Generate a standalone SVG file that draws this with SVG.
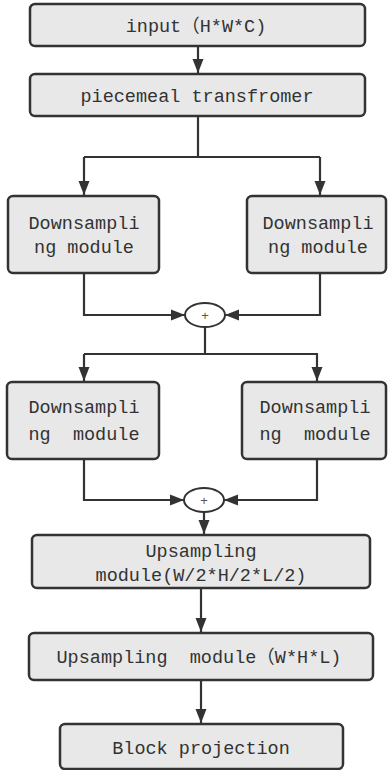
<svg xmlns="http://www.w3.org/2000/svg" width="388" height="770" viewBox="0 0 388 770">
  <defs>
    <marker id="arrow" markerUnits="userSpaceOnUse" markerWidth="14" markerHeight="14" viewBox="0 0 14 14" refX="14" refY="7" orient="auto">
      <path d="M0 1.5 L14 7 L0 12.5 Z" fill="#333"/>
    </marker>
    <style>
      .box { fill: #e8e8e8; stroke: #333; stroke-width: 2.5; }
      .lbl { font-family: "Liberation Mono", "Noto Sans CJK SC", monospace; font-size: 18.5px; fill: #333; text-anchor: middle; }
      .wire { fill: none; stroke: #333; stroke-width: 2.2; }
      .sum { fill: #fff; stroke: #333; stroke-width: 2; }
      .plus { font-family: "Liberation Sans", sans-serif; font-size: 13px; fill: #555; text-anchor: middle; }
    </style>
  </defs>
  <rect width="388" height="770" fill="#fff"/>

  <g id="connectors">
    <path class="wire" d="M198 46 V73" marker-end="url(#arrow)"/>
    <path class="wire" d="M198 116 V157 M84 157 H320"/>
    <path class="wire" d="M84 157 V195" marker-end="url(#arrow)"/>
    <path class="wire" d="M320 157 V195" marker-end="url(#arrow)"/>
    <path class="wire" d="M84 273 V315 H185" marker-end="url(#arrow)"/>
    <path class="wire" d="M320 273 V315 H225" marker-end="url(#arrow)"/>
    <path class="wire" d="M205 327 V354 M84 354 H318"/>
    <path class="wire" d="M84 354 V381" marker-end="url(#arrow)"/>
    <path class="wire" d="M317 354 V381" marker-end="url(#arrow)"/>
    <path class="wire" d="M84 459 V500 H184" marker-end="url(#arrow)"/>
    <path class="wire" d="M317 459 V500 H224" marker-end="url(#arrow)"/>
    <path class="wire" d="M204 512 V534" marker-end="url(#arrow)"/>
    <path class="wire" d="M201 588 V632" marker-end="url(#arrow)"/>
    <path class="wire" d="M201 680 V723" marker-end="url(#arrow)"/>
  </g>

  <g id="input">
    <rect class="box" x="30" y="4" width="335" height="42" rx="5"/>
    <text class="lbl" x="196" y="32">input（H*W*C)</text>
  </g>
  <g id="piecemeal">
    <rect class="box" x="30" y="74" width="335" height="42" rx="5"/>
    <text class="lbl" x="197" y="102">piecemeal transfromer</text>
  </g>
  <g id="down1-left">
    <rect class="box" x="8" y="196" width="151" height="77" rx="5"/>
    <text class="lbl" x="84" y="229">Downsampli</text>
    <text class="lbl" x="84" y="253">ng module</text>
  </g>
  <g id="down1-right">
    <rect class="box" x="247" y="196" width="139" height="77" rx="5"/>
    <text class="lbl" x="318" y="229">Downsampli</text>
    <text class="lbl" x="318" y="253">ng module</text>
  </g>
  <g id="sum1">
    <ellipse class="sum" cx="205" cy="315" rx="20" ry="12"/>
    <text class="plus" x="205" y="320">+</text>
  </g>
  <g id="down2-left">
    <rect class="box" x="7" y="382" width="152" height="77" rx="5"/>
    <text class="lbl" x="84" y="413">Downsampli</text>
    <text class="lbl" x="84" y="440" xml:space="preserve">ng  module</text>
  </g>
  <g id="down2-right">
    <rect class="box" x="242" y="382" width="144" height="77" rx="5"/>
    <text class="lbl" x="315" y="413">Downsampli</text>
    <text class="lbl" x="315" y="440" xml:space="preserve">ng  module</text>
  </g>
  <g id="sum2">
    <ellipse class="sum" cx="204" cy="500" rx="20" ry="12"/>
    <text class="plus" x="204" y="505">+</text>
  </g>
  <g id="upsample-half">
    <rect class="box" x="32" y="535" width="338" height="53" rx="5"/>
    <text class="lbl" x="201" y="557">Upsampling</text>
    <text class="lbl" x="201" y="581">module(W/2*H/2*L/2)</text>
  </g>
  <g id="upsample-full">
    <rect class="box" x="29" y="633" width="344" height="47" rx="5"/>
    <text class="lbl" x="199" y="663" xml:space="preserve">Upsampling  module（W*H*L)</text>
  </g>
  <g id="block-projection">
    <rect class="box" x="60" y="724" width="283" height="45" rx="5"/>
    <text class="lbl" x="201" y="754">Block projection</text>
  </g>
</svg>
